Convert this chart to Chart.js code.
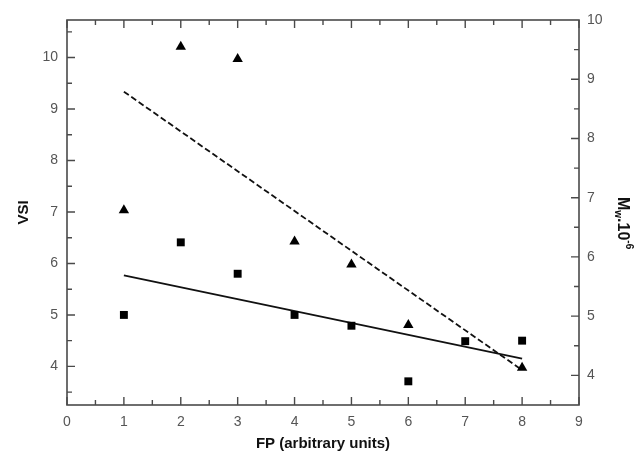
<!DOCTYPE html>
<html>
<head>
<meta charset="utf-8">
<script src="https://cdn.jsdelivr.net/npm/chart.js@4.4.1/dist/chart.umd.min.js"></script>
<style>
html,body{margin:0;padding:0;background:#fff;}
#wrap{width:638px;height:461px;}
</style>
</head>
<body>
<div id="wrap"><canvas id="c" width="638" height="461"></canvas></div>
<script>
// ---- data ----
const fpVsi = [1, 2, 3, 4, 5, 6, 7, 8];
const vsi   = [5.0, 6.41, 5.8, 5.0, 4.79, 3.71, 4.49, 4.5];
const fpMw  = [1, 2, 3, 4, 5, 6, 8];
const mw    = [6.79, 9.55, 9.34, 6.26, 5.87, 4.85, 4.13];
const fitX  = [1, 8];
const vsiFit = [5.77, 4.15];
const mwFit  = [8.79, 4.09];
const xTicks = [0, 1, 2, 3, 4, 5, 6, 7, 8, 9];
const vsiTicks = [4, 5, 6, 7, 8, 9, 10];
const mwTicks = [4, 5, 6, 7, 8, 9, 10];

const pts = (xs, ys) => xs.map((x, i) => ({x: x, y: ys[i]}));
const FONT = "'Liberation Sans', Arial, sans-serif";
const AXC = '#4a4a4a';

const framePlugin = {
  id: 'frame',
  afterDatasetsDraw(chart) {
    const ctx = chart.ctx, a = chart.chartArea;
    const sx = chart.scales.x, sy = chart.scales.y, sy2 = chart.scales.y2;
    ctx.save();
    ctx.strokeStyle = AXC;
    ctx.lineWidth = 1.6;
    ctx.strokeRect(a.left, a.top, a.right - a.left, a.bottom - a.top);
    ctx.lineWidth = 1.4;
    ctx.beginPath();
    for (let v = sx.min; v <= sx.max + 1e-9; v += 0.5) {
      const p = sx.getPixelForValue(v);
      const L = Math.abs(v - Math.round(v)) < 1e-9 ? 8 : 5;
      ctx.moveTo(p, a.bottom); ctx.lineTo(p, a.bottom - L);
      ctx.moveTo(p, a.top); ctx.lineTo(p, a.top + L);
    }
    for (let v = 3.5; v <= sy.max + 1e-9; v += 0.5) {
      const p = sy.getPixelForValue(v);
      const L = Math.abs(v - Math.round(v)) < 1e-9 ? 8 : 5;
      ctx.moveTo(a.left, p); ctx.lineTo(a.left + L, p);
    }
    for (let v = 4; v < sy2.max - 1e-9; v += 0.5) {
      const p = sy2.getPixelForValue(v);
      const L = Math.abs(v - Math.round(v)) < 1e-9 ? 8 : 5;
      ctx.moveTo(a.right, p); ctx.lineTo(a.right - L, p);
    }
    ctx.stroke();

    // right axis title: M_w.10^-6 rotated clockwise
    ctx.fillStyle = '#111';
    ctx.translate(618, 197);
    ctx.rotate(Math.PI / 2);
    ctx.textBaseline = 'alphabetic';
    ctx.textAlign = 'left';
    let x = 0;
    ctx.font = 'bold 16px ' + FONT;
    ctx.fillText('M', x, 0); x += ctx.measureText('M').width;
    ctx.font = 'bold 10px ' + FONT;
    ctx.fillText('w', x, 3); x += ctx.measureText('w').width;
    ctx.font = 'bold 16px ' + FONT;
    ctx.fillText('.10', x, 0); x += ctx.measureText('.10').width;
    ctx.font = 'bold 10px ' + FONT;
    ctx.fillText('-6', x, -8);
    ctx.restore();
  }
};

new Chart(document.getElementById('c'), {
  type: 'scatter',
  data: {
    datasets: [
      { label: 'VSI', data: pts(fpVsi, vsi), yAxisID: 'y', pointStyle: 'rect',
        pointRadius: 5.6, backgroundColor: '#000', borderColor: '#000', borderWidth: 0, showLine: false },
      { label: 'Mw', data: pts(fpMw, mw), yAxisID: 'y2', pointStyle: 'triangle',
        pointRadius: 6, backgroundColor: '#000', borderColor: '#000', borderWidth: 0, showLine: false },
      { label: 'VSI fit', data: pts(fitX, vsiFit), yAxisID: 'y', showLine: true,
        pointRadius: 0, borderColor: '#111', borderWidth: 1.8, fill: false },
      { label: 'Mw fit', data: pts(fitX, mwFit), yAxisID: 'y2', showLine: true,
        pointRadius: 0, borderColor: '#111', borderWidth: 1.8, borderDash: [6, 3], fill: false }
    ]
  },
  options: {
    responsive: false,
    animation: false,
    layout: { padding: { top: 20, left: 0, right: 0, bottom: 0 } },
    plugins: { legend: { display: false }, tooltip: { enabled: false } },
    scales: {
      x: {
        type: 'linear', position: 'bottom', min: 0, max: 9,
        afterBuildTicks: s => { s.ticks = xTicks.map(v => ({value: v})); },
        afterFit: s => { s.height = 56; },
        grid: { display: false }, border: { display: false },
        ticks: { color: '#555', font: { family: FONT, size: 14 }, padding: 1 },
        title: { display: true, text: 'FP (arbitrary units)', color: '#111',
          font: { family: FONT, size: 15, weight: 'bold' }, padding: { top: 0, bottom: 8 } }
      },
      y: {
        type: 'linear', position: 'left', min: 3.25, max: 10.73,
        afterBuildTicks: s => { s.ticks = vsiTicks.map(v => ({value: v})); },
        afterFit: s => { s.width = 67; },
        grid: { display: false }, border: { display: false },
        ticks: { color: '#555', font: { family: FONT, size: 14 }, padding: 1 },
        title: { display: true, text: 'VSI', color: '#111',
          font: { family: FONT, size: 15, weight: 'bold' }, padding: { top: 15, bottom: 0 } }
      },
      y2: {
        type: 'linear', position: 'right', min: 3.5, max: 10,
        afterBuildTicks: s => { s.ticks = mwTicks.map(v => ({value: v})); },
        afterFit: s => { s.width = 59; },
        grid: { display: false }, border: { display: false },
        ticks: { color: '#555', font: { family: FONT, size: 14 }, padding: 0 },
        title: { display: false }
      }
    }
  },
  plugins: [framePlugin]
});
</script>
</body>
</html>
